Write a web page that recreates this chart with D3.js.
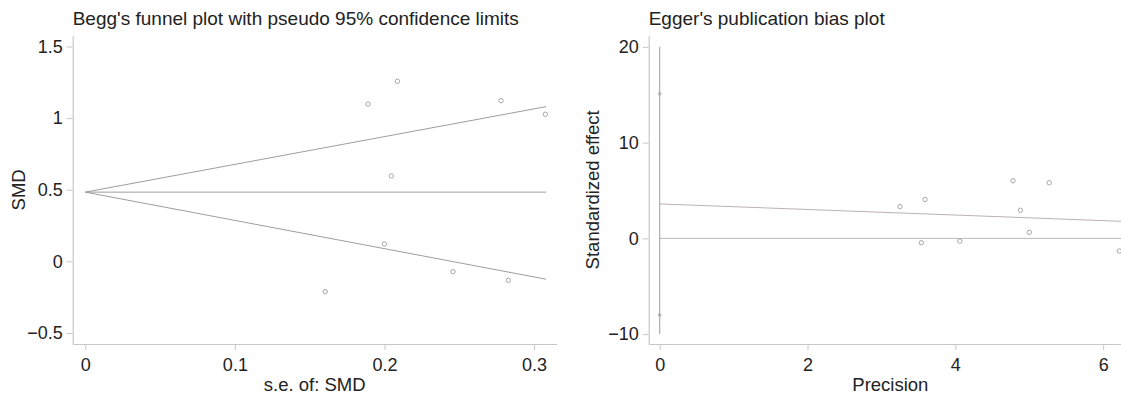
<!DOCTYPE html>
<html><head><meta charset="utf-8">
<script src="https://cdn.jsdelivr.net/npm/d3@7"></script>
<style>
html,body{margin:0;padding:0;background:#fff;}
svg{display:block;font-family:"Liberation Sans",Arial,Helvetica,sans-serif;}
</style></head>
<body>
<svg id="chart" width="1121" height="394"></svg>
<script>
// ---- Begg's funnel plot data ----
const beggSE  = [0.189, 0.2086, 0.2779, 0.3075, 0.2046, 0.1999, 0.1604, 0.2458, 0.2828];
const beggSMD = [1.098, 1.257, 1.122, 1.027, 0.596, 0.121, -0.212, -0.072, -0.133];
const beggPooled = [[0, 0.483], [0.308, 0.483]];
const beggUpper  = [[0, 0.483], [0.308, 1.08]];
const beggLower  = [[0, 0.483], [0.308, -0.125]];
const beggXTicks = [0, 0.1, 0.2, 0.3];
const beggYTicks = [-0.5, 0, 0.5, 1, 1.5];

// ---- Egger's plot data ----
const eggPrecision = [3.25, 3.59, 4.88, 5.00, 3.54, 4.06, 6.22, 4.78, 5.27];
const eggStdEffect = [3.32, 4.06, 2.94, 0.63, -0.45, -0.28, -1.32, 6.02, 5.81];
const eggInterceptPts = [[0, 15.1], [0, -8.0]];
const eggCI   = [[0, -10], [0, 20]];
const eggReg  = [[0, 3.6], [6.4, 1.74]];
const eggZero = [[0, 0], [6.4, 0]];
const eggXTicks = [0, 2, 4, 6];
const eggYTicks = [-10, 0, 10, 20];

const svg = d3.select("#chart");
const axisCol = "#cbc6c6", lineCol = "#a29c9c", ptCol = "#a29c9c", txtCol = "#222";
const fmt = d => (d < 0 ? "\u2212" + Math.abs(d) : String(d));

function panel(o) {
  const g = svg.append("g");
  const x = d3.scaleLinear().domain(o.xDom).range([o.left, o.right]);
  const y = d3.scaleLinear().domain(o.yDom).range([o.bottom, o.top]);

  const ax = g.append("g").attr("transform", `translate(0,${o.bottom})`)
    .call(d3.axisBottom(x).tickValues(o.xTicks).tickFormat(fmt).tickSize(6).tickSizeOuter(0).tickPadding(8));
  const ay = g.append("g").attr("transform", `translate(${o.left},0)`)
    .call(d3.axisLeft(y).tickValues(o.yTicks).tickFormat(fmt).tickSize(6).tickSizeOuter(0).tickPadding(4));
  [ax, ay].forEach(a => {
    a.select(".domain").attr("stroke", axisCol).attr("stroke-width", 1.2);
    a.selectAll(".tick line").attr("stroke", axisCol);
    a.selectAll("text").attr("fill", txtCol).style("font-size", "18px")
      .style("font-family", '"Liberation Sans",Arial,sans-serif');
  });

  const line = d3.line().x(d => x(d[0])).y(d => y(d[1]));
  o.lines.forEach(l => g.append("path").attr("d", line(l.d)).attr("fill", "none")
    .attr("stroke", l.c || lineCol).attr("stroke-width", 1));

  g.selectAll("circle.p").data(o.pts).enter().append("circle")
    .attr("cx", d => x(d[0])).attr("cy", d => y(d[1])).attr("r", 2.2)
    .attr("fill", "none").attr("stroke", ptCol).attr("stroke-width", 0.9);
  if (o.small) g.selectAll("circle.s").data(o.small).enter().append("circle")
    .attr("cx", d => x(d[0])).attr("cy", d => y(d[1])).attr("r", 1.4)
    .attr("fill", "none").attr("stroke", ptCol).attr("stroke-width", 0.8);

  g.append("text").attr("x", o.left).attr("y", 25).attr("fill", txtCol)
    .style("font-size", "19px").text(o.title);
  g.append("text").attr("x", (o.left + o.right) / 2).attr("y", 391).attr("text-anchor", "middle")
    .attr("fill", txtCol).style("font-size", "18.5px").text(o.xTitle);
  g.append("text").attr("transform", `translate(${o.yTitleX},${(o.top + o.bottom) / 2}) rotate(-90)`)
    .attr("text-anchor", "middle").attr("fill", txtCol).style("font-size", "18.5px").text(o.yTitle);
}

panel({
  left: 72.7, right: 556.7, top: 35.7, bottom: 344,
  xDom: [-0.0084, 0.3151], yDom: [-0.5775, 1.5754],
  xTicks: beggXTicks, yTicks: beggYTicks,
  lines: [{d: beggPooled}, {d: beggUpper}, {d: beggLower}],
  pts: beggSE.map((s, i) => [s, beggSMD[i]]),
  title: "Begg's funnel plot with pseudo 95% confidence limits",
  xTitle: "s.e. of: SMD", yTitle: "SMD", yTitleX: 25
});

panel({
  left: 648.7, right: 1132, top: 35.7, bottom: 344,
  xDom: [-0.149, 6.39], yDom: [-11.03, 21.17],
  xTicks: eggXTicks, yTicks: eggYTicks,
  lines: [{d: eggCI}, {d: eggZero, c: "#bdb7b7"}, {d: eggReg, c: "#bdb2b2"}],
  pts: eggPrecision.map((p, i) => [p, eggStdEffect[i]]),
  small: eggInterceptPts,
  title: "Egger's publication bias plot",
  xTitle: "Precision", yTitle: "Standardized effect", yTitleX: 599
});
</script>
</body></html>
